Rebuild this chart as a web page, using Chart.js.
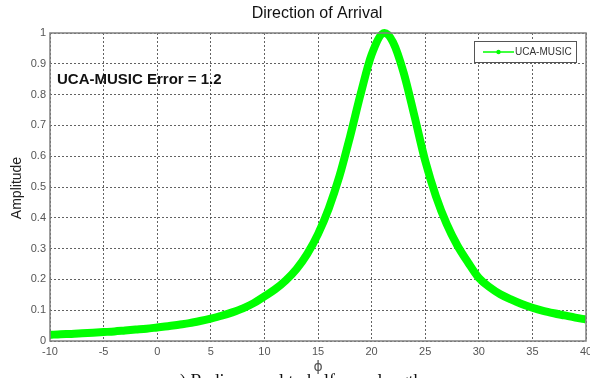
<!DOCTYPE html>
<html>
<head>
<meta charset="utf-8">
<script src="https://cdn.jsdelivr.net/npm/chart.js@4.4.1/dist/chart.umd.min.js"></script>
<style>
  html, body { margin: 0; padding: 0; background: #fff; }
  .chartBox { width: 590px; height: 378px; }
</style>
</head>
<body>
<div class="chartBox"><canvas id="myChart" width="590" height="378"></canvas></div>
<script>
// values
const phi = [-10, -9, -8, -7, -6, -5, -4, -3, -2, -1, 0, 1, 2, 3, 4, 5, 6, 7, 8, 9,
  10, 11, 12, 13, 14, 15, 16, 17, 18, 19, 20, 21.2, 22, 23, 24, 25, 26, 27, 28, 29,
  30, 31, 32, 33, 34, 35, 36, 37, 38, 39, 40];
const amplitude = [0.020, 0.022, 0.023, 0.025, 0.027, 0.029, 0.031, 0.034, 0.037, 0.040,
  0.044, 0.048, 0.053, 0.058, 0.065, 0.073, 0.082, 0.093, 0.106, 0.123,
  0.145, 0.168, 0.197, 0.234, 0.283, 0.347, 0.43, 0.535, 0.665, 0.805,
  0.93, 1.0, 0.97, 0.87, 0.73, 0.585, 0.47, 0.38, 0.31, 0.255,
  0.205, 0.175, 0.152, 0.135, 0.12, 0.108, 0.098, 0.09, 0.083, 0.076, 0.07];
const seriesName = 'UCA-MUSIC';
const errorText = 'UCA-MUSIC Error = 1.2';
const titleText = 'Direction of Arrival';
const captionText = 'c) Radius equal to half wavelength';

const points = phi.map((p, i) => ({ x: p, y: amplitude[i] }));
const green = '#00ff00';

// texts, box and legend drawn on top
const decor = {
  id: 'decor',
  afterDraw(chart) {
    const ctx = chart.ctx;
    const a = chart.chartArea;
    ctx.save();
    // axes box
    ctx.strokeStyle = '#808080';
    ctx.lineWidth = 1.5;
    ctx.strokeRect(a.left, a.top, a.right - a.left, a.bottom - a.top);

    // title
    ctx.fillStyle = '#111';
    ctx.font = '16px "Liberation Sans", Arial, sans-serif';
    ctx.textAlign = 'center';
    ctx.textBaseline = 'middle';
    ctx.fillText(titleText, 317, 14);

    // y label
    ctx.save();
    ctx.translate(17, 188);
    ctx.rotate(-Math.PI / 2);
    ctx.font = '14px "Liberation Sans", Arial, sans-serif';
    ctx.fillStyle = '#222';
    ctx.fillText('Amplitude', 0, 0);
    ctx.restore();

    // cut caption
    ctx.font = '18px "Liberation Serif", "Times New Roman", serif';
    ctx.fillStyle = '#111';
    ctx.textAlign = 'left';
    ctx.textBaseline = 'alphabetic';
    ctx.fillText(captionText, 172, 387);

    // x label
    ctx.textAlign = 'center';
    ctx.textBaseline = 'middle';
    ctx.font = '14px "DejaVu Sans", sans-serif';
    ctx.fillStyle = '#555';
    ctx.fillText('ϕ', 318, 367);

    // error annotation
    ctx.font = 'bold 15px "Liberation Sans", Arial, sans-serif';
    ctx.fillStyle = '#111';
    ctx.textAlign = 'left';
    ctx.fillText(errorText, 57, 80);

    // legend
    ctx.fillStyle = '#fff';
    ctx.fillRect(474, 41, 102, 21);
    ctx.strokeStyle = '#555';
    ctx.lineWidth = 1;
    ctx.strokeRect(474.5, 41.5, 102, 21);
    ctx.strokeStyle = green;
    ctx.lineWidth = 1.5;
    ctx.beginPath();
    ctx.moveTo(483, 52);
    ctx.lineTo(514, 52);
    ctx.stroke();
    ctx.fillStyle = green;
    ctx.beginPath();
    ctx.arc(498.5, 52, 2.2, 0, Math.PI * 2);
    ctx.fill();
    ctx.font = '10px "Liberation Sans", Arial, sans-serif';
    ctx.fillStyle = '#333';
    ctx.fillText(seriesName, 515, 52);
    ctx.restore();
  }
};

const config = {
  type: 'line',
  data: {
    datasets: [{
      label: seriesName,
      data: points,
      borderColor: green,
      backgroundColor: green,
      borderWidth: 8,
      pointRadius: 0,
      cubicInterpolationMode: 'monotone',
      clip: 10
    }]
  },
  options: {
    responsive: false,
    animation: false,
    layout: { padding: { top: 33, right: 4, left: 0, bottom: 0 } },
    plugins: {
      legend: { display: false },
      title: { display: false },
      tooltip: { enabled: false }
    },
    scales: {
      x: {
        type: 'linear',
        min: -10,
        max: 40,
        afterFit: (s) => { s.height = 37; s.paddingRight = 0; s.paddingLeft = 0; },
        border: { display: false },
        grid: { color: 'rgba(70,70,70,0.85)', lineWidth: 1, drawTicks: false },
        ticks: {
          stepSize: 5,
          padding: 4,
          color: '#555',
          font: { family: '"Liberation Sans", Arial, sans-serif', size: 11 }
        }
      },
      y: {
        min: 0,
        max: 1,
        afterFit: (s) => { s.width = 50; s.paddingTop = 0; s.paddingBottom = 0; },
        border: { display: false },
        grid: { color: 'rgba(70,70,70,0.85)', lineWidth: 1, drawTicks: false },
        ticks: {
          stepSize: 0.1,
          padding: 4,
          color: '#555',
          font: { family: '"Liberation Sans", Arial, sans-serif', size: 11 },
          callback: (v) => Math.round(v * 10) / 10
        }
      }
    }
  },
  plugins: [decor]
};

// dotted grid
config.options.scales.x.border = { display: false, dash: [2, 2] };
config.options.scales.y.border = { display: false, dash: [2, 2] };

const myChart = new Chart(document.getElementById('myChart'), config);
</script>
</body>
</html>
